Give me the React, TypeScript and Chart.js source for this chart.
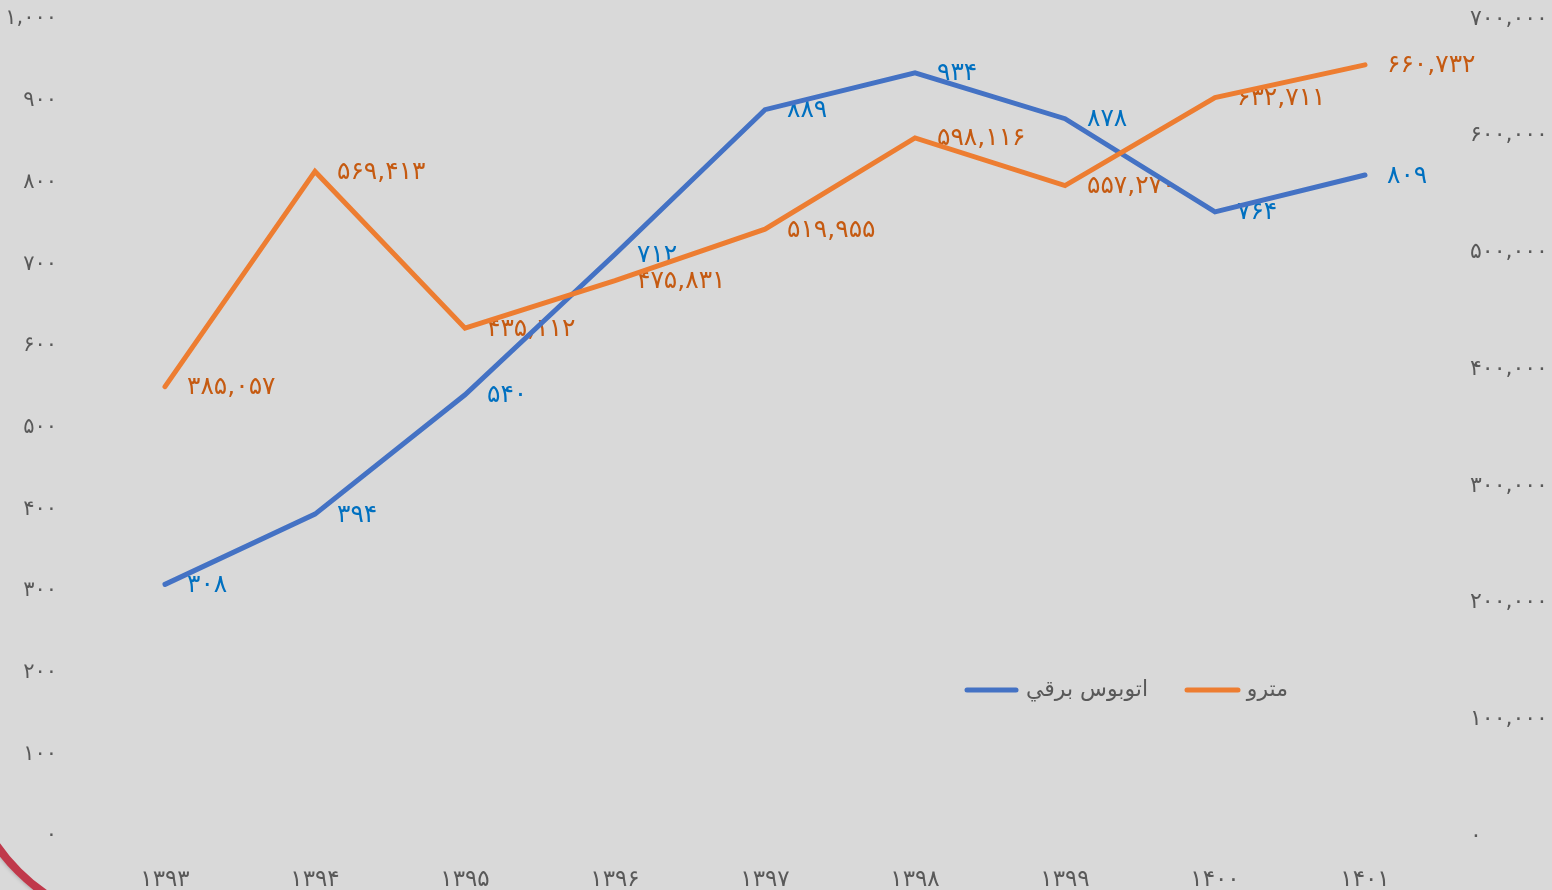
import React, { useEffect, useRef } from "react";
import { Chart, registerables } from "chart.js";

Chart.register(...registerables);

const years = ["1393", "1394", "1395", "1396", "1397", "1398", "1399", "1400", "1401"];
const busValues = [308, 394, 540, 712, 889, 934, 878, 764, 809];
const metroValues = [385057, 569413, 435112, 475831, 519955, 598116, 557270, 632711, 660732];
const busLabel = "اتوبوس برقي";
const metroLabel = "مترو";

const FONT = '"DejaVu Sans", sans-serif';
const fa = (s: string) => s.replace(/\d/g, (d) => "۰۱۲۳۴۵۶۷۸۹"[+d]);
const fmt = (n: number) => fa(Math.round(n).toLocaleString("en-US"));

const BLUE = "#4472C4";
const ORANGE = "#ED7D31";
const BLUE_TXT = "#0070C0";
const ORANGE_TXT = "#C55A11";
const TICK = "#595959";

const noPad = (s: any) => {
  s.paddingTop = 0;
  s.paddingBottom = 0;
  s.paddingLeft = 0;
  s.paddingRight = 0;
};

const labelsPlugin = {
  id: "valueLabels",
  beforeDatasetsDraw(chart: any) {
    const ctx = chart.ctx;
    ctx.save();
    ctx.font = `25px ${FONT}`;
    ctx.textBaseline = "middle";
    ctx.textAlign = "left";
    chart.data.datasets.forEach((ds: any, i: number) => {
      const meta = chart.getDatasetMeta(i);
      ctx.fillStyle = ds.labelColor;
      meta.data.forEach((pt: any, j: number) => {
        ctx.fillText(fmt(ds.data[j]), pt.x + 22, pt.y + 1);
      });
    });
    ctx.restore();
  },
  afterDraw(chart: any) {
    const ctx = chart.ctx;
    const a = chart.chartArea;
    const y = a.top + 671;
    ctx.save();
    ctx.lineCap = "round";
    ctx.lineWidth = 5;
    const items = [
      { color: BLUE, text: busLabel, x0: a.left + 877, x1: a.left + 926, tx: a.left + 1058 },
      { color: ORANGE, text: metroLabel, x0: a.left + 1097, x1: a.left + 1148, tx: a.left + 1198 },
    ];
    ctx.font = `22px ${FONT}`;
    ctx.textBaseline = "middle";
    ctx.textAlign = "right";
    ctx.fillStyle = TICK;
    items.forEach((it) => {
      ctx.strokeStyle = it.color;
      ctx.beginPath();
      ctx.moveTo(it.x0, y);
      ctx.lineTo(it.x1, y);
      ctx.stroke();
      ctx.fillText(it.text, it.tx, y);
    });
    ctx.restore();
  },
};

export default function App() {
  const ref = useRef<HTMLCanvasElement>(null);
  useEffect(() => {
    const chart = new Chart(ref.current!, {
      type: "line",
      data: {
        labels: years.map(fa),
        datasets: [
          {
            label: busLabel,
            data: busValues,
            borderColor: BLUE,
            backgroundColor: BLUE,
            borderWidth: 5,
            pointRadius: 0,
            borderCapStyle: "round",
            yAxisID: "y",
            order: 2,
            labelColor: BLUE_TXT,
          } as any,
          {
            label: metroLabel,
            data: metroValues,
            borderColor: ORANGE,
            backgroundColor: ORANGE,
            borderWidth: 5,
            pointRadius: 0,
            borderCapStyle: "round",
            yAxisID: "y1",
            order: 1,
            labelColor: ORANGE_TXT,
          } as any,
        ],
      },
      options: {
        animation: false,
        responsive: true,
        maintainAspectRatio: false,
        layout: { padding: { top: 19, bottom: 0, left: 0, right: 0 } },
        plugins: { legend: { display: false }, tooltip: { enabled: false } },
        scales: {
          x: {
            offset: true,
            grid: { display: false, drawTicks: false },
            border: { display: false },
            ticks: { color: TICK, font: { family: FONT, size: 23 }, padding: 30, maxRotation: 0 },
            afterFit: (s: any) => { s.height = 54; noPad(s); },
          },
          y: {
            position: "left",
            min: 0,
            max: 1000,
            grid: { display: false, drawTicks: false },
            border: { display: false },
            ticks: { stepSize: 100, color: TICK, font: { family: FONT, size: 21 }, padding: 33, callback: (v: any) => fmt(v) },
            afterFit: (s: any) => { s.width = 90; noPad(s); },
          },
          y1: {
            position: "right",
            min: 0,
            max: 700000,
            grid: { display: false, drawTicks: false },
            border: { display: false },
            ticks: { stepSize: 100000, color: TICK, font: { family: FONT, size: 22 }, padding: 30, callback: (v: any) => fmt(v) },
            afterFit: (s: any) => { s.width = 112; noPad(s); },
          },
        },
      },
      plugins: [labelsPlugin],
    });
    return () => chart.destroy();
  }, []);
  return (
    <div style={{ position: "fixed", left: 0, top: 0, width: 1552, height: 890, background: "#d9d9d9", overflow: "hidden" }}>
      <canvas ref={ref} style={{ position: "absolute", left: 0, top: 0 }} />
      <div style={{ position: "absolute", left: 0, top: 835, width: 60, height: 55, overflow: "hidden" }}>
        <div
          style={{
            position: "absolute",
            left: -40,
            top: -285,
            width: 380,
            height: 380,
            boxSizing: "border-box",
            borderRadius: "50%",
            border: "8px solid #C0394B",
            boxShadow: "0 0 4px rgba(0,0,0,0.3)",
          }}
        />
      </div>
    </div>
  );
}
